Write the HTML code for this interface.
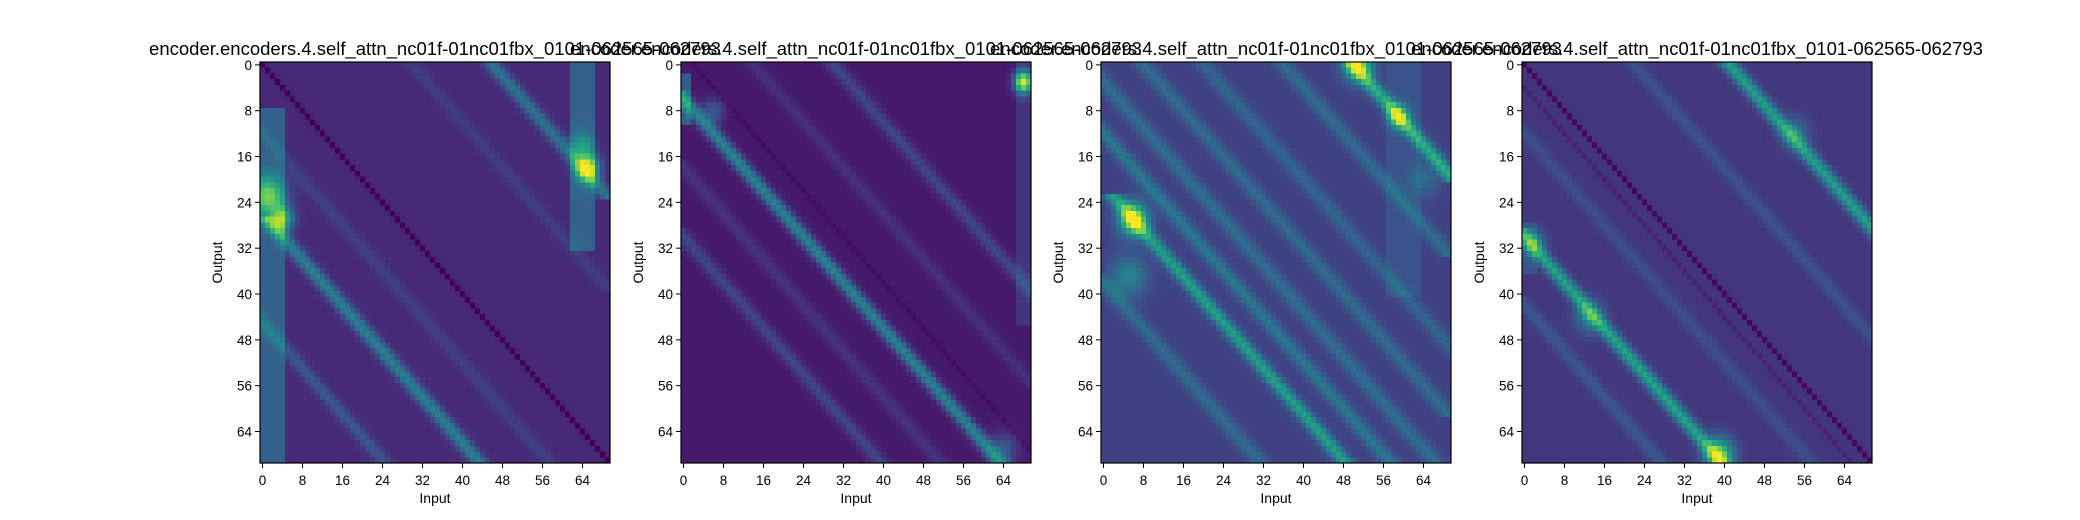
<!DOCTYPE html>
<html><head><meta charset="utf-8">
<style>
html,body{margin:0;padding:0;background:#fff;}
svg{display:block;font-family:"Liberation Sans","DejaVu Sans",sans-serif;}
</style></head>
<body>
<svg id="fig" width="2080" height="520" viewBox="0 0 2080 520" xmlns="http://www.w3.org/2000/svg">
<rect width="2080" height="520" fill="#fff"/>
</svg>
<script>
const N = 70;
const panelTitles = [
 "encoder.encoders.4.self_attn_nc01f-01nc01fbx_0101-062565-062793",
 "encoder.encoders.4.self_attn_nc01f-01nc01fbx_0101-062565-062793",
 "encoder.encoders.4.self_attn_nc01f-01nc01fbx_0101-062565-062793",
 "encoder.encoders.4.self_attn_nc01f-01nc01fbx_0101-062565-062793"
];
const tickLabels = [0, 8, 16, 24, 32, 40, 48, 56, 64];
const panelBase = [0.13, 0.08, 0.2, 0.17];
// bands: [offset (col-row), value, rowStart, rowEnd]
const bands1 = [[0,-0.13,0,69],[-26,0.3,28,69],[-45,0.14,44,69],[46,0.25,0,22],[-12,0.07,10,69],[30,0.06,0,38]];
const bands2 = [[-6,0.36,6,69],[-30,0.14,30,69],[30,0.14,0,40],[14,0.07,0,55],[-18,0.08,18,69],[2,-0.04,0,69]];
const bands3 = [[-21,0.36,24,69],[50,0.42,0,19],[-12,0.2,5,69],[-3,0.16,0,69],[8,0.15,0,60],[20,0.13,0,50],[-38,0.15,38,69],[36,0.15,0,32]];
const bands4 = [[0,-0.15,0,69],[-30,0.4,30,69],[41,0.38,0,30],[-42,0.1,42,69],[22,0.08,0,48],[-12,0.07,12,69],[-4,-0.06,0,69]];
// stripes: [colStart, colEnd, rowStart, rowEnd, value]
const stripes1 = [[0,4,8,69,0.17],[62,66,0,32,0.18]];
const stripes2 = [[0,1,2,10,0.2],[67,69,0,45,0.08]];
const stripes3 = [[57,63,0,40,0.05]];
const stripes4 = [[0,2,28,36,0.08]];
// hotspots: [row, col, value, radius]
const hots1 = [[23,1,0.5,2.5],[27,4,0.5,1.5],[18,65,0.65,1.6],[14,64,0.25,1.5]];
const hots2 = [[3,68,0.8,1.3],[8,6,0.2,1.5],[67,64,0.2,2]];
const hots3 = [[27,6,0.65,2],[0,51,0.55,2],[9,59,0.45,1.5],[37,5,0.25,2.5],[20,64,0.15,2]];
const hots4 = [[68,39,0.55,2],[44,13,0.25,2],[12,54,0.2,2],[31,2,0.25,1.5]];
const allBands = [bands1, bands2, bands3, bands4];
const allStripes = [stripes1, stripes2, stripes3, stripes4];
const allHots = [hots1, hots2, hots3, hots4];

const panelLeft = [260, 681, 1101, 1522];
const plotTop = 62, pw = 350, ph = 401;
const cw = pw / N, ch = ph / N;
const xScale = (p, c) => panelLeft[p] + c * cw;
const yScale = r => plotTop + r * ch;

const vir = [[0,[68,1,84]],[0.125,[71,39,119]],[0.25,[59,82,139]],[0.375,[44,114,142]],[0.5,[33,145,140]],[0.625,[40,174,128]],[0.75,[94,201,98]],[0.875,[173,220,48]],[1,[253,231,37]]];
function viridis(v){
  v = Math.max(0, Math.min(1, v));
  for (let i = 1; i < vir.length; i++) {
    if (v <= vir[i][0]) {
      const a = vir[i-1], b = vir[i], t = (v - a[0]) / (b[0] - a[0]);
      return 'rgb(' + a[1].map((x, k) => Math.round(x + (b[1][k] - x) * t)).join(',') + ')';
    }
  }
  return 'rgb(253,231,37)';
}
function cellValue(p, r, c){
  let v = panelBase[p];
  for (const b of allBands[p]) {
    if (r < b[2] - 1 || r > b[3] + 1) continue;
    const d = (c - r) - b[0];
    const w = b[1] < 0 ? 0.45 : 1.3;
    v += b[1] * Math.exp(-d * d / (2 * w * w));
  }
  for (const s of allStripes[p]) {
    if (c >= s[0] && c <= s[1] && r >= s[2] && r <= s[3]) v += s[4];
  }
  for (const h of allHots[p]) {
    const dr = r - h[0], dc = c - h[1];
    v += h[2] * Math.exp(-(dr * dr + dc * dc) / (2 * h[3] * h[3]));
  }
  return v;
}
const svgRoot = document.getElementById('fig');
const NS = 'http://www.w3.org/2000/svg';
function mk(tag, attrs){
  const e = document.createElementNS(NS, tag);
  for (const k in attrs) e.setAttribute(k, attrs[k]);
  return e;
}
for (let p = 0; p < 4; p++) {
  const g = mk('g', {});
  
  
  svgRoot.appendChild(g);
  const cells = mk('g', {'shape-rendering': 'crispEdges'});
  
  
  g.appendChild(cells);
  for (let r = 0; r < N; r++) {
    for (let c = 0; c < N; c++) {
      const x0 = xScale(p, c), y0 = yScale(r);
      const rc = mk('rect', {x: x0.toFixed(2), y: y0.toFixed(2), width: (cw + 0.4).toFixed(2), height: (ch + 0.4).toFixed(2), fill: viridis(cellValue(p, r, c))});
      
      
      cells.appendChild(rc);
    }
  }
  const frame = mk('rect', {x: panelLeft[p], y: plotTop, width: pw, height: ph, fill: 'none', stroke: '#000', 'stroke-width': 1.2});
  
  
  g.appendChild(frame);
  for (const t of tickLabels) {
    const tx = xScale(p, t + 0.5), ty = yScale(t + 0.5);
    const xl = mk('line', {x1: tx, x2: tx, y1: plotTop + ph, y2: plotTop + ph + 5, stroke: '#000', 'stroke-width': 1});
    
    
    g.appendChild(xl);
    const xt = mk('text', {x: tx, y: plotTop + ph + 22, 'font-size': 13.5, 'text-anchor': 'middle', fill: '#000'});
    xt.textContent = t;
    
    
    g.appendChild(xt);
    const yl = mk('line', {x1: panelLeft[p] - 5, x2: panelLeft[p], y1: ty, y2: ty, stroke: '#000', 'stroke-width': 1});
    
    
    g.appendChild(yl);
    const yt = mk('text', {x: panelLeft[p] - 8, y: ty + 5, 'font-size': 13.5, 'text-anchor': 'end', fill: '#000'});
    yt.textContent = t;
    
    
    g.appendChild(yt);
  }
  const xa = mk('text', {x: panelLeft[p] + pw / 2, y: 503, 'font-size': 14, 'text-anchor': 'middle', fill: '#000'});
  xa.textContent = 'Input';
  
  
  g.appendChild(xa);
  const cx = panelLeft[p] - 38, cy = plotTop + ph / 2;
  const ya = mk('text', {x: cx, y: cy, 'font-size': 14, 'text-anchor': 'middle', fill: '#000', transform: 'rotate(-90 ' + cx + ' ' + cy + ')'});
  ya.textContent = 'Output';
  
  
  g.appendChild(ya);
  const ti = mk('text', {x: panelLeft[p] + pw / 2, y: 55, 'font-size': 18.5, 'text-anchor': 'middle', fill: '#000'});
  ti.textContent = panelTitles[p];
  
  
  g.appendChild(ti);
}
</script>
</body></html>
